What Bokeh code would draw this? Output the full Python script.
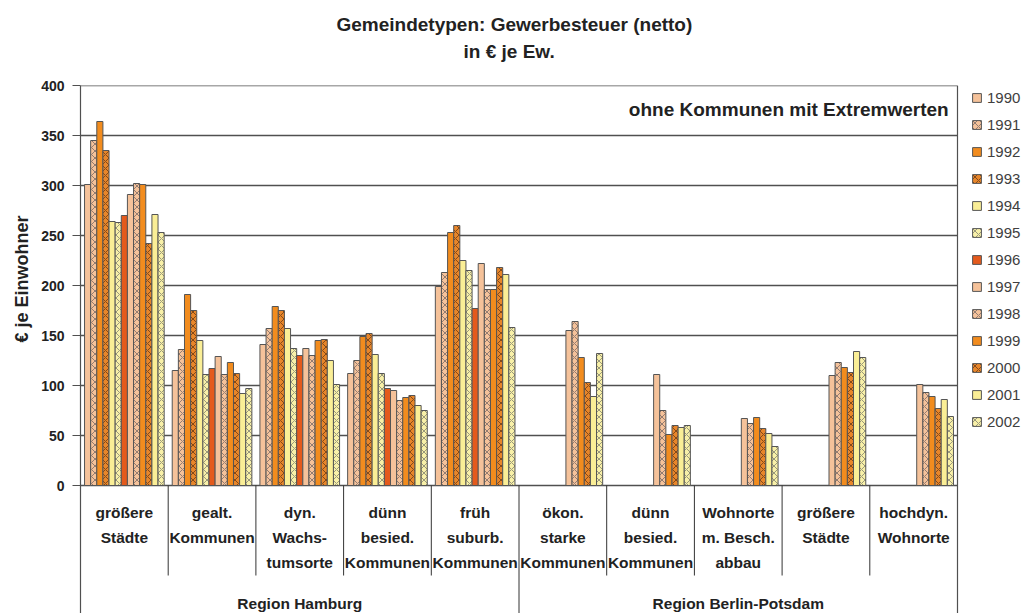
import math
from bokeh.plotting import figure
from bokeh.models import (ColumnDataSource, FixedTicker, Title, Legend, LegendItem, Range1d)
from bokeh.core.properties import value
from bokeh.embed import file_html
from bokeh.resources import INLINE

# ---------------- data ----------------
years = [str(y) for y in range(1990, 2003)]
groups = ["größere\nStädte", "gealt.\nKommunen", "dyn.\nWachs-\ntumsorte",
          "dünn\nbesied.\nKommunen", "früh\nsuburb.\nKommunen",
          "ökon.\nstarke\nKommunen", "dünn\nbesied.\nKommunen",
          "Wohnorte\nm. Besch.\nabbau", "größere\nStädte", "hochdyn.\nWohnorte"]
regions = ["Region Hamburg", "Region Berlin-Potsdam"]
groups_per_region = [5, 5]
yticks = [0, 50, 100, 150, 200, 250, 300, 350, 400]

N = None
v1990 = [301, 115, 141, 112, 199, N, N, N, N, N]
v1991 = [345, 136, 157, 125, 213, N, N, N, N, N]
v1992 = [364, 191, 179, 149, 253, N, N, N, N, N]
v1993 = [335, 175, 175, 152, 260, N, N, N, N, N]
v1994 = [264, 145, 157, 131, 225, N, N, N, N, N]
v1995 = [263, 111, 137, 112, 215, N, N, N, N, N]
v1996 = [270, 117, 130, 97, 177, N, N, N, N, N]
v1997 = [291, 129, 137, 95, 222, 155, 111, 67, 110, 101]
v1998 = [302, 111, 130, 85, 196, 164, 75, 62, 123, 93]
v1999 = [301, 123, 145, 88, 196, 128, 51, 68, 118, 89]
v2000 = [242, 112, 146, 90, 218, 103, 60, 57, 113, 77]
v2001 = [271, 92, 125, 80, 211, 89, 58, 52, 134, 86]
v2002 = [253, 97, 101, 75, 158, 132, 60, 39, 128, 69]
series = [v1990, v1991, v1992, v1993, v1994, v1995, v1996,
          v1997, v1998, v1999, v2000, v2001, v2002]

# style per year: (fill, hatch pattern, hatch colour)
PEACH, ORANGE, YELLOW, RED = "#F5C29A", "#F28C1E", "#FAEE96", "#E45A1C"
styles = [
    (PEACH, None, None), (PEACH, "x", "#7a6a66"), (ORANGE, None, None),
    ("#E8862A", "x", "#6b3a14"), (YELLOW, None, None), ("#F8F0A8", "x", "#808070"),
    (RED, None, None),
    (PEACH, None, None), (PEACH, "x", "#7a6a66"), (ORANGE, None, None),
    ("#E8862A", "x", "#6b3a14"), (YELLOW, None, None), ("#F8F0A8", "x", "#808070"),
]

FONT = value("Liberation Sans")
n_groups = len(groups)
n_years = len(years)
pad = 0.046
bw = (1 - 2 * pad) / n_years
ybottom = -128
plot_w = 877          # pixel width of the group area
frame_w = 949         # frame also hosts the legend on the right
x_max = n_groups * frame_w / plot_w
GRID = "#505050"

p = figure(frame_width=frame_w, frame_height=528, x_range=Range1d(0, x_max),
           y_range=Range1d(ybottom, 400),
           output_backend="svg", toolbar_location=None, title=None,
           min_border_left=80, min_border_right=0, min_border_top=85, min_border_bottom=0)
p.background_fill_color = "white"
p.border_fill_color = "white"
p.outline_line_color = None

p.xaxis.visible = False
p.xgrid.visible = False
p.ygrid.visible = False
p.yaxis.ticker = FixedTicker(ticks=yticks)
p.yaxis.axis_line_color = GRID
p.yaxis.axis_line_width = 1.2
p.yaxis.major_tick_out = 8
p.yaxis.major_tick_in = 0
p.yaxis.major_tick_line_color = GRID
p.yaxis.minor_tick_line_color = None
p.yaxis.major_label_standoff = 8
p.yaxis.major_label_text_font = "Liberation Sans"
p.yaxis.major_label_text_font_style = "bold"
p.yaxis.major_label_text_font_size = "14px"
p.yaxis.major_label_text_color = "#222222"

# horizontal grid lines over the group area only
p.segment(x0=[0] * len(yticks), y0=yticks, x1=[n_groups] * len(yticks), y1=yticks,
          line_color=GRID, line_width=1.3)
# right border of the plot area
p.segment(x0=[n_groups], y0=[ybottom], x1=[n_groups], y1=[yticks[-1]],
          line_color=GRID, line_width=1.2)

items = []
for k, (yr, vals) in enumerate(zip(years, series)):
    xs, tops = [], []
    for gi, v in enumerate(vals):
        if v is None:
            continue
        xs.append(gi + pad + bw * (k + 0.5))
        tops.append(v)
    src = ColumnDataSource(dict(x=xs, top=tops))
    fill, hatch, hcol = styles[k]
    kw = {}
    if hatch:
        kw = dict(hatch_pattern=hatch, hatch_color=hcol, hatch_scale=7, hatch_weight=0.8)
    r = p.vbar(x="x", top="top", bottom=0, width=bw, source=src, fill_color=fill,
               line_color="#555555", line_width=1, **kw)
    items.append(LegendItem(label=yr, renderers=[r]))

# separators under the axis
inner_x, outer_x = [], []
edge = 0
outer_x.append(0)
for cnt in groups_per_region:
    for j in range(1, cnt):
        inner_x.append(edge + j)
    edge += cnt
    outer_x.append(edge)
p.segment(x0=inner_x, y0=[0] * len(inner_x), x1=inner_x, y1=[-90] * len(inner_x),
          line_color="#333333", line_width=1)
p.segment(x0=outer_x[:-1], y0=[0] * (len(outer_x) - 1), x1=outer_x[:-1],
          y1=[ybottom] * (len(outer_x) - 1), line_color="#333333", line_width=1)

# group labels
lx, ly, lt = [], [], []
for gi, g in enumerate(groups):
    for li, line in enumerate(g.split("\n")):
        lx.append(gi + 0.5)
        ly.append(-27 - 25 * li)
        lt.append(line)
p.text(x=lx, y=ly, text=lt, text_font=FONT, text_font_style="bold", text_font_size="15.5px",
       text_align="center", text_baseline="middle", text_color="#222222")

# region labels
rx, start = [], 0
for cnt in groups_per_region:
    rx.append(start + cnt / 2)
    start += cnt
p.text(x=rx, y=[-118] * len(rx), text=regions, text_font=FONT, text_font_style="bold",
       text_font_size="15.5px", text_align="center", text_baseline="middle", text_color="#222222")

# note
p.text(x=[n_groups - 0.1], y=[376], text=["ohne Kommunen mit Extremwerten"], text_font=FONT,
       text_font_style="bold", text_font_size="19px", text_align="right",
       text_baseline="middle", text_color="#222222")

# titles (white spacer first, closest to the frame)
spacer_top = Title(text="|", text_font_size="10px", text_color="white", standoff=9)
p.add_layout(spacer_top, "above")
sub = Title(text="in € je Ew.", align="left", offset=383, text_font="Liberation Sans",
            text_font_style="bold", text_font_size="19px", text_color="#222222", standoff=4)
p.add_layout(sub, "above")
main = Title(text="Gemeindetypen: Gewerbesteuer (netto)", align="left", offset=256,
             text_font="Liberation Sans", text_font_style="bold", text_font_size="19px",
             text_color="#222222", standoff=4)
p.add_layout(main, "above")

ylab = Title(text="€ je Einwohner", align="left", offset=271, text_font="Liberation Sans",
             text_font_style="bold", text_font_size="18px", text_color="#222222", standoff=14)
p.add_layout(ylab, "left")

legend = Legend(items=items, location=(891, 183), orientation="vertical",
                glyph_width=11, glyph_height=11, label_height=15, spacing=10,
                padding=2, margin=0, label_standoff=5,
                label_text_font="Liberation Sans", label_text_font_size="15px",
                label_text_color="#404040", border_line_color=None,
                background_fill_alpha=0)
p.add_layout(legend, "center")

open("out.html", "w").write(file_html(p, INLINE))
